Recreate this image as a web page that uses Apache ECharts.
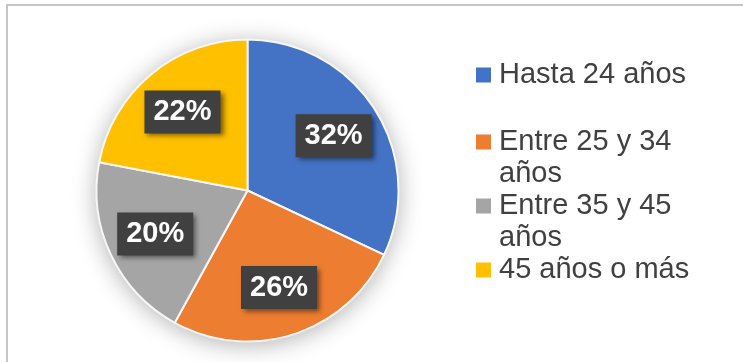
<!DOCTYPE html>
<html><head><meta charset="utf-8">
<script src="https://cdn.jsdelivr.net/npm/echarts@6/dist/echarts.min.js"></script>
<style>
html,body{margin:0;padding:0;background:#fff;}
#frame{position:absolute;left:6px;top:4px;width:737px;height:358px;border-top:2px solid #c6c6c6;border-left:2px solid #c6c6c6;box-sizing:border-box;}
#chart{position:absolute;left:0;top:0;width:743px;height:362px;}
</style></head><body>
<div id="frame"></div><div id="chart"></div>
<script>
const categories = ['Hasta 24 años', 'Entre 25 y 34 años', 'Entre 35 y 45 años', '45 años o más'];
const shares = [32, 26, 20, 22];
const colors = ['#4472C4', '#ED7D31', '#A5A5A5', '#FFC000'];

const FONT = '"Liberation Sans", Arial, sans-serif';
const LEG_SIZE = 29, LEG_WRAP = 205, LEG_LH = 32;
const ctx = document.createElement('canvas').getContext('2d');
ctx.font = LEG_SIZE + 'px ' + FONT;

// wrap a legend name into lines no wider than LEG_WRAP
function wrapName(name) {
  const words = name.split(' ');
  const lines = [];
  let cur = '';
  words.forEach(w => {
    const test = cur ? cur + ' ' + w : w;
    if (cur && ctx.measureText(test).width > LEG_WRAP) { lines.push(cur); cur = w; }
    else cur = test;
  });
  if (cur) lines.push(cur);
  return lines;
}
const rich = {
  t: { fontFamily: FONT, fontSize: LEG_SIZE, color: '#404040', lineHeight: LEG_LH },
  gap: { width: 8, lineHeight: LEG_LH },
  ind: { width: 23, lineHeight: LEG_LH }
};
colors.forEach((c, i) => {
  rich['sq' + i] = { backgroundColor: c, width: 15, height: 15, lineHeight: LEG_LH, verticalAlign: 'middle' };
});
function legendFormatter(name) {
  const i = categories.indexOf(name);
  return wrapName(name).map((line, k) =>
    (k === 0 ? '{sq' + i + '|}{gap|}' : '{ind|}') + '{t|' + line + '}').join('\n');
}

const data = categories.map((n, i) => ({ name: n, value: shares[i] }));
const center = [247.5, 190.5];
const R = 151;
const legendBase = {
  orient: 'vertical', padding: 0, itemWidth: 1, itemHeight: 15, itemGap: 0,
  itemStyle: { color: 'rgba(0,0,0,0)', borderWidth: 0, opacity: 0 },
  selectedMode: false, formatter: legendFormatter,
  textStyle: { fontFamily: FONT, fontSize: LEG_SIZE, color: '#404040', lineHeight: LEG_LH, rich: rich }
};

const chart = echarts.init(document.getElementById('chart'), null, { renderer: 'canvas' });
chart.setOption({
  animation: false,
  color: colors,
  legend: [
    Object.assign({}, legendBase, { left: 470, top: 59, data: [categories[0]] }),
    Object.assign({}, legendBase, { left: 470, top: 126, data: categories.slice(1) })
  ],
  series: [
    { type: 'pie', name: 'main', z: 2, center: center, radius: [0, R], startAngle: 90, clockwise: true,
      silent: true, label: { show: false }, labelLine: { show: false },
      itemStyle: { borderColor: '#f6f6f6', borderWidth: 2 }, data: data },
    { type: 'pie', name: 'shadow', z: 1, center: center, radius: [0, R], startAngle: 90, clockwise: true,
      silent: true, label: { show: false }, labelLine: { show: false },
      itemStyle: { shadowBlur: 24, shadowColor: 'rgba(0,0,0,0.32)', shadowOffsetY: 3 }, data: data },
    { type: 'pie', name: 'labels', z: 3, center: center, radius: [47, R], startAngle: 90, clockwise: true,
      silent: true, itemStyle: { color: 'rgba(0,0,0,0)', borderWidth: 0 }, labelLine: { show: false },
      label: { show: true, position: 'inside', formatter: '{c}%', fontFamily: FONT, fontWeight: 'bold',
        fontSize: 29, lineHeight: 33, color: '#ffffff', backgroundColor: '#404040',
        padding: [5, 9, 5, 9], shadowBlur: 5, shadowOffsetX: 3, shadowOffsetY: 3,
        shadowColor: 'rgba(0,0,0,0.5)' },
      data: data }
  ]
});
</script>
</body></html>
